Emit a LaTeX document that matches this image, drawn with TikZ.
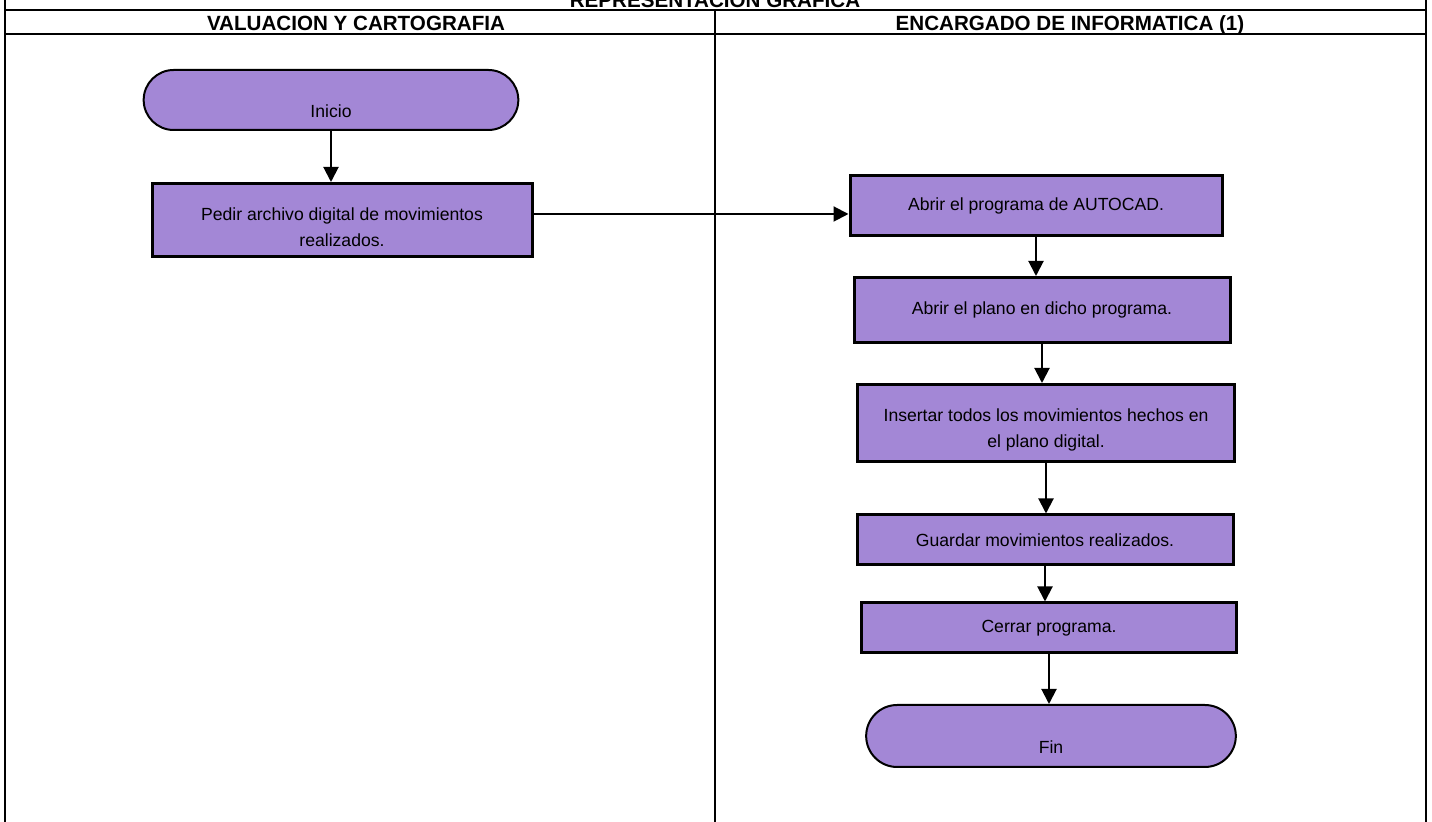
\documentclass[tikz,border=0pt]{standalone}
\usepackage{fontspec}
\setmainfont{Liberation Sans}
\usetikzlibrary{arrows.meta,shapes.misc}
\definecolor{lila}{RGB}{163,135,214}
\begin{document}
\begin{tikzpicture}[x=0.5pt, y=-0.5pt, font=\fontsize{8.8}{13}\selectfont,
  frame/.style={line width=1.2pt},
  head/.style={font=\fontsize{10.3}{12}\selectfont\bfseries, anchor=base, inner sep=0pt},
  term/.style={rounded rectangle, draw, fill=lila, line width=1pt, text height=18pt, text depth=0pt},
  task/.style={draw, fill=lila, line width=1.5pt, align=center},
  flow/.style={-{Triangle[width=7.5pt,length=7.5pt]}, line width=1pt},
]
\clip (0,0) rectangle (1432,822);

% ---------------------------------------------------------------- table
\draw[frame] (5,-10) -- (5,830);
\draw[frame] (1426,-10) -- (1426,830);
\draw[frame] (5,10) -- (1426,10);
\draw[frame] (5,34) -- (1426,34);
\draw[frame] (715,10) -- (715,830);
\node[head] (titulo) at (715,7.5) {REPRESENTACION GRAFICA};
\node[head] (valuacion) at (356,31) {VALUACION Y CARTOGRAFIA};
\node[head] (informatica) at (1070,31) {ENCARGADO DE INFORMATICA (1)};

% ---------------------------------------------------------------- valuacion y cartografia
\node[term, minimum width=194pt, minimum height=30pt] (inicio) at (331,100) {Inicio};
\node[task, minimum width=190pt, minimum height=36.5pt, text height=27pt, text depth=0pt] (pedir) at (342,220)
  {Pedir archivo digital de movimientos\\realizados.};
\draw[flow] (inicio.south) -- (inicio.south |- pedir.north);

% ---------------------------------------------------------------- encargado de informatica
\node[task, minimum width=186pt, minimum height=30pt] (autocad) at (1036,206) {Abrir el programa de AUTOCAD.};
\node[task, minimum width=188pt, minimum height=32.5pt] (plano) at (1042,310) {Abrir el plano en dicho programa.};
\node[task, minimum width=188.5pt, minimum height=38.5pt, text height=24.5pt, text depth=0pt] (insertar) at (1046,423)
  {Insertar todos los movimientos hechos en\\el plano digital.};
\node[task, minimum width=188pt, minimum height=25pt] (guardar) at (1045,540) {Guardar movimientos realizados.};
\node[task, minimum width=187.5pt, minimum height=25pt] (cerrar) at (1049,628) {Cerrar programa.};
\node[term, minimum width=191.5pt, minimum height=31pt] (fin) at (1051,736) {Fin};

\draw[flow] ([yshift=3pt]pedir.east) -- ([yshift=3pt]pedir.east -| autocad.west);
\foreach \a/\b in {autocad/plano, plano/insertar, insertar/guardar, guardar/cerrar, cerrar/fin}
  \draw[flow] (\a.south) -- (\a.south |- \b.north);
\end{tikzpicture}
\end{document}
